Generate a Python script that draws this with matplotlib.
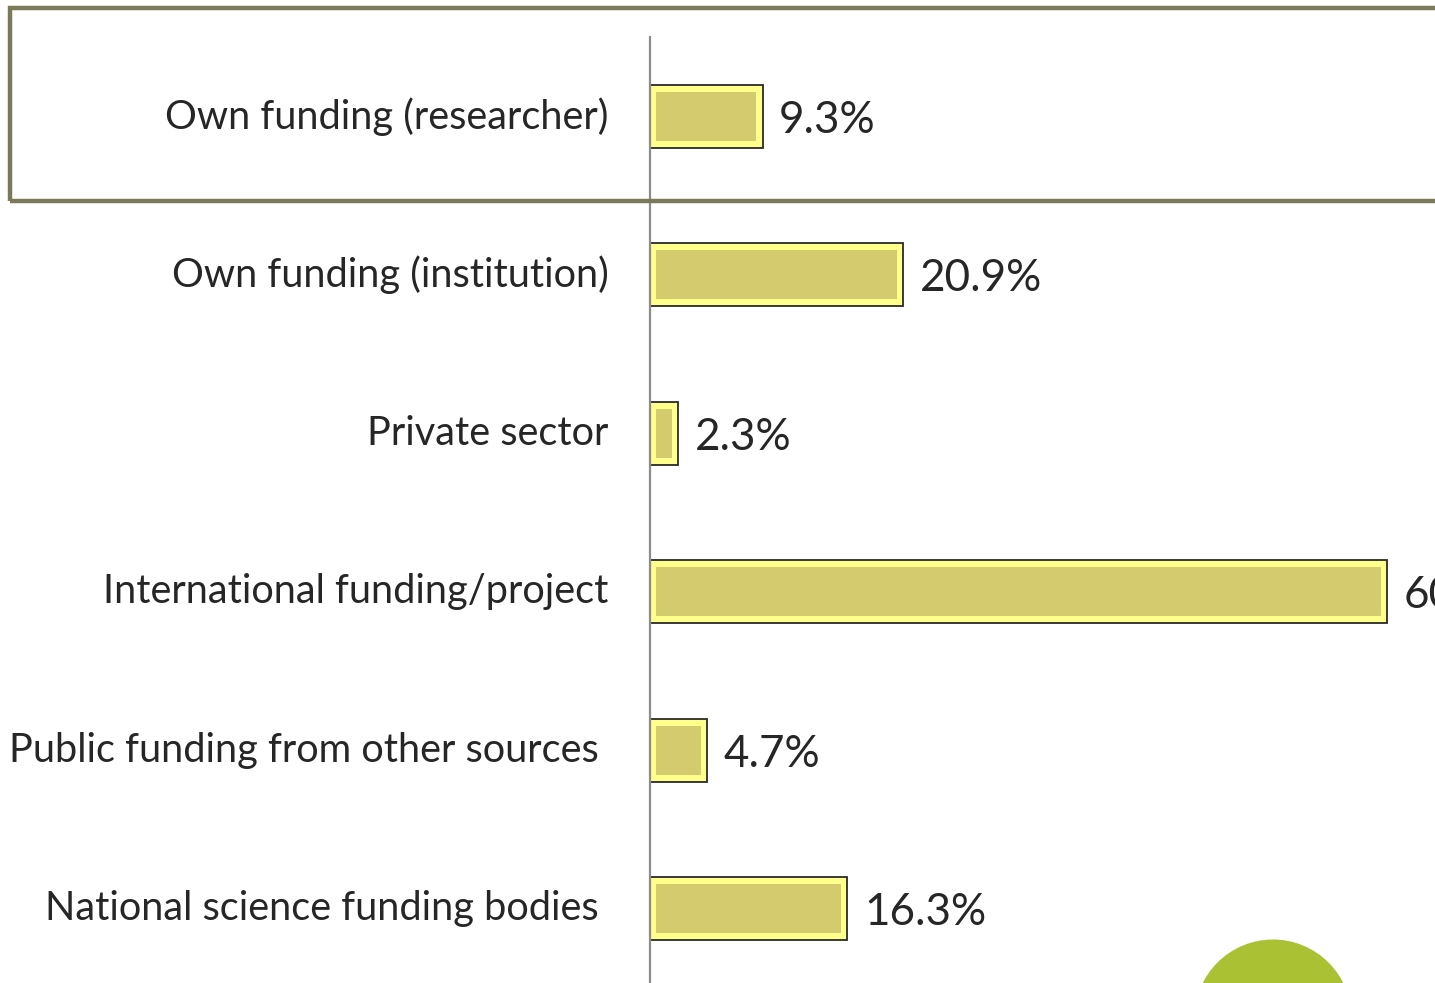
import matplotlib
matplotlib.use("Agg")
import matplotlib.pyplot as plt
from matplotlib.patches import Rectangle, Ellipse

categories = ["Own funding (researcher)", "Own funding (institution)", "Private sector",
              "International funding/project", "Public funding from other sources",
              "National science funding bodies"]
values = [9.3, 20.9, 2.3, 60.9, 4.7, 16.3]
value_labels = ["9.3%", "20.9%", "2.3%", "60.9%", "4.7%", "16.3%"]

plt.rcParams['font.family'] = ['Lato', 'DejaVu Sans']
W, H = 1435, 983
fig = plt.figure(figsize=(W / 100, H / 100), dpi=100)
ax = fig.add_axes([650 / W, (983 - 988) / H, (W - 650) / W, 951 / H])

ypos = list(range(len(categories)))
ax.barh(ypos, values, height=0.40, color="#FFFF8C", edgecolor="#2a2a2a", linewidth=1.3, zorder=2)
inner = [max(v - 1.0, 0.3) for v in values]
ax.barh(ypos, inner, left=0.5, height=0.31, color="#D4CA6E", edgecolor="none", zorder=3)

for y, v, lab in zip(ypos, values, value_labels):
    ax.annotate(lab, (v, y), xytext=(12, -3), textcoords="offset points",
                va="center", ha="left", fontsize=31.7, color="#262626", clip_on=False)

label_pad = [30, 30, 30, 30, 37, 37]
for y, cat, p in zip(ypos, categories, label_pad):
    ax.annotate(cat, (0, y), xytext=(-p, 0), textcoords="offset points",
                va="center", ha="right", fontsize=28.6, color="#262626")

ax.set_xlim(0, (W - 650) / 12.1)
ax.set_ylim(len(categories) - 0.5, -0.5)
ax.set_xticks([])
ax.set_yticks([])
for s in ["top", "right", "bottom"]:
    ax.spines[s].set_visible(False)
ax.spines["left"].set_color("#8c8c8c")
ax.spines["left"].set_linewidth(1.6)

# box round the first row
fig.patches.append(Rectangle((10 / W, (983 - 201) / H), 1.0, 193 / H, transform=fig.transFigure,
                             fill=False, edgecolor="#7B7A58", linewidth=3.2, zorder=0))
# green circle at the bottom
fig.patches.append(Ellipse((1273 / W, (983 - 1018) / H), 157 / W, 157 / H, transform=fig.transFigure,
                           facecolor="#A9C133", edgecolor="none"))

fig.savefig("out.png", dpi=100)
